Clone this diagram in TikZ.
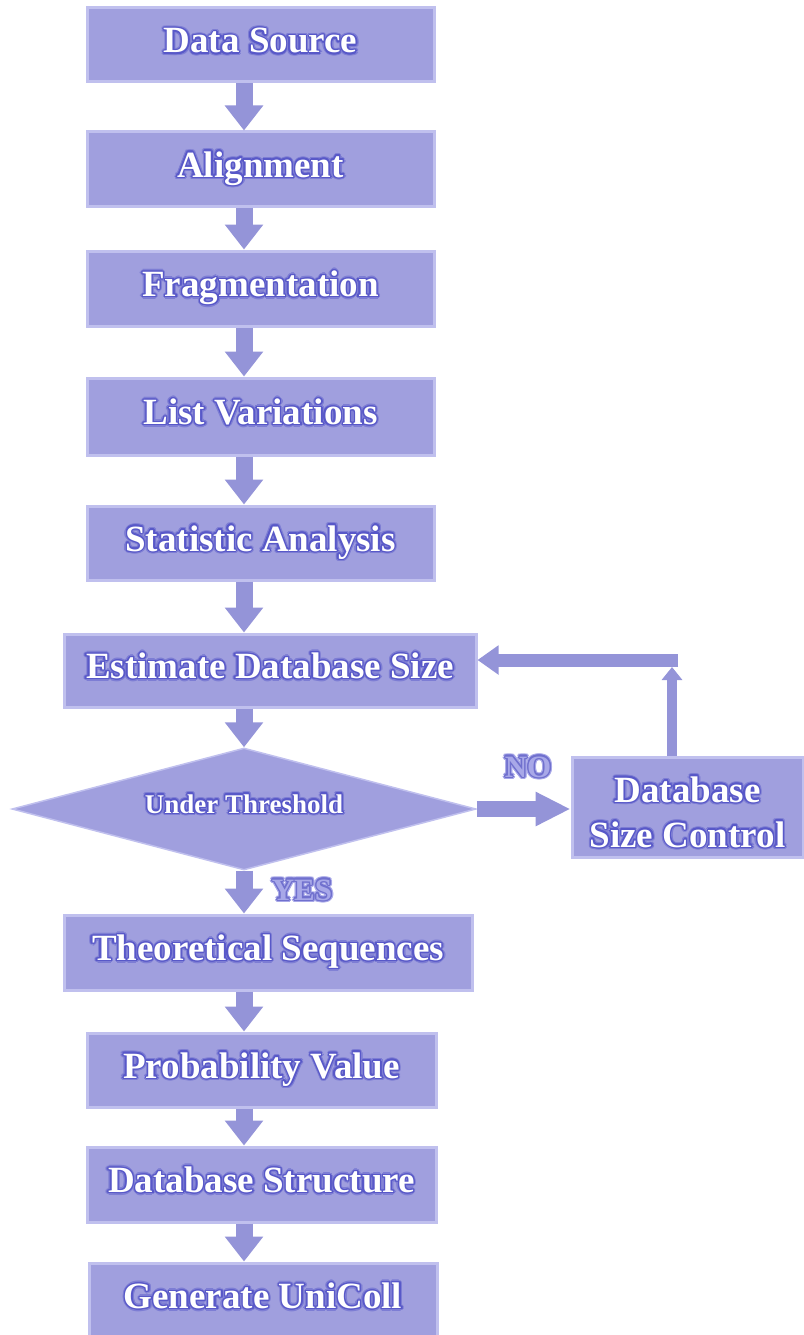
\documentclass[tikz,border=0pt]{standalone}
\usepackage{fontspec}
\setmainfont{Liberation Serif}
\usetikzlibrary{arrows.meta,shapes.geometric}
\definecolor{boxfill}{RGB}{160,159,222}
\definecolor{boxborder}{RGB}{192,192,238}
\definecolor{arrowc}{RGB}{148,148,216}
\definecolor{glowout}{RGB}{125,125,212}
\definecolor{glowin}{RGB}{88,88,200}
\definecolor{lblfill}{RGB}{168,168,232}
\definecolor{lblglow}{RGB}{112,112,206}
\newbox\glbox
\newcommand\ringcopies[2]{\foreach \a in {0,30,...,330}{\pgfmathsetlengthmacro\gdx{#2*cos(\a)}\pgfmathsetlengthmacro\gdy{#2*sin(\a)}\rlap{\hspace*{\gdx}\raisebox{\gdy}{\color{#1}\copy\glbox}}}}
\newcommand\glowtext[4]{{\setbox\glbox=\hbox{#4}\ringcopies{#1}{2.6pt}\ringcopies{#2}{1.3pt}\color{#3}\copy\glbox}}
\newcommand\gt[1]{\glowtext{glowout}{glowin}{white}{#1}}
\tikzset{
  flowbox/.style={draw=boxborder, line width=3pt, fill=boxfill, inner sep=0pt,
    minimum height=74pt, text height=22pt, text depth=6pt,
    font=\bfseries\fontsize{37}{40}\selectfont},
  blockarrow/.style={draw=arrowc, line width=17pt, -{Triangle[width=37pt,length=25pt]}},
  sidearrow/.style={draw=arrowc, line width=16pt, -{Triangle[width=32pt,length=35pt]}},
  thinarrow/.style={draw=arrowc, line width=10pt, -{Triangle[width=20pt,length=13pt]}},
  bararrow/.style={draw=arrowc, line width=13pt, -{Triangle[width=28pt,length=21pt]}},
  answer/.style={font=\bfseries\fontsize{31}{34}\selectfont, inner sep=0pt}
}
\begin{document}
\begin{tikzpicture}[x=1pt,y=-1pt]
\useasboundingbox (0,0) rectangle (803,1335);
\coordinate (ax) at (244,0);
\node[flowbox, minimum width=347pt] (b1) at (260.5,45) {\gt{Data Source}};
\node[flowbox, minimum width=347pt] (b2) at (260.5,169) {\gt{Alignment}};
\node[flowbox, minimum width=347pt, minimum height=75pt] (b3) at (260.5,288.5) {\gt{Fragmentation}};
\node[flowbox, minimum width=347pt, minimum height=77pt] (b4) at (260.5,416.5) {\gt{List Variations}};
\node[flowbox, minimum width=347pt] (b5) at (260.5,543) {\gt{Statistic Analysis}};
\node[flowbox, minimum width=412pt, minimum height=73pt] (est) at (270,670.5) {\gt{Estimate Database Size}};
\node[diamond, aspect=3.8, draw=boxborder, line width=1.5pt, fill=boxfill, inner sep=0pt,
  minimum width=464pt, minimum height=122pt, text height=16pt, text depth=8pt,
  font=\bfseries\fontsize{27}{30}\selectfont] (dia) at (244,809) {\gt{Under Threshold}};
\node[flowbox, minimum width=231pt, minimum height=100pt, align=center,
  text height=80pt, text depth=0pt, font=\bfseries\fontsize{37}{45}\selectfont] (dsc) at (687.5,807)
  {\gt{Database}\\\gt{Size Control}};
\node[flowbox, minimum width=408pt, minimum height=75pt] (b9) at (268,952.5) {\gt{Theoretical Sequences}};
\node[flowbox, minimum width=349pt] (b10) at (261.5,1070) {\gt{Probability Value}};
\node[flowbox, minimum width=349pt, minimum height=75pt] (b11) at (261.5,1184.5) {\gt{Database Structure}};
\node[flowbox, minimum width=348pt, minimum height=75pt] (b12) at (263,1300.5) {\gt{Generate UniColl}};
\node[answer] (no) at (528,767) {\glowtext{lblfill}{lblglow}{lblfill}{NO}};
\node[answer] (yes) at (302,890) {\glowtext{lblfill}{lblglow}{lblfill}{YES}};
\draw[blockarrow] (b1.south -| ax) -- (b2.north -| ax);
\draw[blockarrow] (b2.south -| ax) -- (b3.north -| ax);
\draw[blockarrow] (b3.south -| ax) -- (b4.north -| ax);
\draw[blockarrow] (b4.south -| ax) -- (b5.north -| ax);
\draw[blockarrow] (b5.south -| ax) -- (est.north -| ax);
\draw[blockarrow] (est.south -| ax) -- (dia.north);
\draw[blockarrow] (dia.south) -- (b9.north -| ax);
\draw[blockarrow] (b9.south -| ax) -- (b10.north -| ax);
\draw[blockarrow] (b10.south -| ax) -- (b11.north -| ax);
\draw[blockarrow] (b11.south -| ax) -- (b12.north -| ax);
\draw[sidearrow] (dia.east) -- (dsc.west |- dia.east);
\coordinate (fbtop) at (672,667);
\coordinate (fbr) at (678,660);
\draw[thinarrow] (dsc.north -| fbtop) -- (fbtop);
\draw[bararrow] (fbr) -- (est.east |- fbr);
\end{tikzpicture}
\end{document}
